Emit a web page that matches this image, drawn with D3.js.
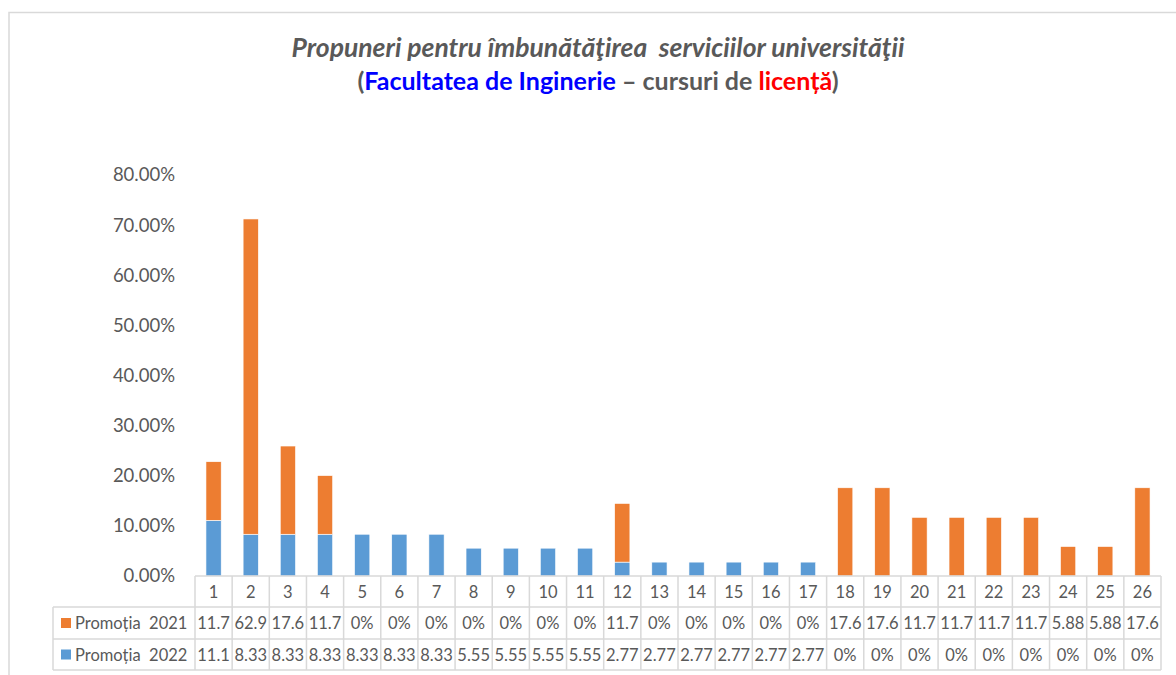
<!DOCTYPE html>
<html>
<head>
<meta charset="utf-8">
<script src="https://cdn.jsdelivr.net/npm/d3@7"></script>
<style>
  body { margin: 0; background: #fff; }
  svg { display: block; font-family: Lato, "Noto Sans", sans-serif; }
</style>
</head>
<body>
<svg width="1176" height="675"></svg>
<script>
// chart data, percent values as shown in the data table
var categories = d3.range(1, 27).map(String);
var promotia2021 = [11.7, 62.9, 17.6, 11.7, 0, 0, 0, 0, 0, 0, 0, 11.7, 0, 0, 0, 0, 0, 17.6, 17.6, 11.7, 11.7, 11.7, 11.7, 5.88, 5.88, 17.6];
var promotia2022 = [11.1, 8.33, 8.33, 8.33, 8.33, 8.33, 8.33, 5.55, 5.55, 5.55, 5.55, 2.77, 2.77, 2.77, 2.77, 2.77, 2.77, 0, 0, 0, 0, 0, 0, 0, 0, 0];
var yTicks = [0, 10, 20, 30, 40, 50, 60, 70, 80];

var series = [
  {name: "Promoția 2021", values: promotia2021, color: "#ED7D31"},
  {name: "Promoția 2022", values: promotia2022, color: "#5B9BD5"}
];

var svg = d3.select("svg");
var textColor = "#595959";
var lineColor = "#d9d9d9";

// outer chart border (runs off the right and bottom edges)
svg.append("path")
  .attr("d", "M9,676 V12.5 H1180")
  .attr("fill", "none")
  .attr("stroke", lineColor)
  .attr("stroke-width", 1.5);

// title
svg.append("text")
  .attr("x", 598)
  .attr("y", 57)
  .attr("text-anchor", "middle")
  .attr("font-size", 26.5)
  .attr("font-weight", "bold")
  .attr("font-style", "italic")
  .attr("fill", textColor)
  .style("white-space", "pre")
  .text("Propuneri pentru îmbunătăţirea  serviciilor universităţii");

var sub = svg.append("text")
  .attr("x", 598)
  .attr("y", 90)
  .attr("text-anchor", "middle")
  .attr("font-size", 25)
  .attr("font-weight", "bold")
  .attr("fill", textColor);
sub.append("tspan").text("(");
sub.append("tspan").attr("fill", "#0000FF").text("Facultatea de Inginerie");
sub.append("tspan").text(" – cursuri de ");
sub.append("tspan").attr("fill", "#FF0000").text("licență");
sub.append("tspan").text(")");

// scales
var x = d3.scaleBand()
  .domain(categories)
  .range([195, 1161])
  .paddingInner(0)
  .paddingOuter(0);

var y = d3.scaleLinear()
  .domain([0, 80])
  .range([576, 175]);

var yAxis = d3.axisLeft(y)
  .tickValues(yTicks)
  .tickSize(0)
  .tickPadding(0)
  .tickFormat(function(d) { return d.toFixed(2) + "%"; });

var gy = svg.append("g")
  .attr("transform", "translate(175,0)")
  .call(yAxis);
gy.select(".domain").remove();
gy.selectAll("text")
  .attr("font-size", 18.5)
  .attr("fill", textColor)
  .attr("font-family", "Lato, 'Noto Sans', sans-serif");

// stacked bars, 2022 on the bottom
var rows = categories.map(function(c, i) {
  return {cat: c, p2022: promotia2022[i], p2021: promotia2021[i]};
});
var stack = d3.stack().keys(["p2022", "p2021"]);
var stacked = stack(rows);
var colors = {p2022: "#5B9BD5", p2021: "#ED7D31"};
var barW = x.bandwidth() * 0.41;

svg.selectAll(".layer")
  .data(stacked)
  .enter()
  .append("g")
  .attr("class", "layer")
  .attr("fill", function(d) { return colors[d.key]; })
  .selectAll("rect")
  .data(function(d) { return d; })
  .enter()
  .filter(function(d) { return d[1] - d[0] > 0; })
  .append("rect")
  .attr("x", function(d) { return x(d.data.cat) + (x.bandwidth() - barW) / 2; })
  .attr("y", function(d) { return y(d[1]); })
  .attr("width", barW)
  .attr("height", function(d) { return y(d[0]) - y(d[1]); })
  .attr("stroke", "#fff")
  .attr("stroke-width", 0.6);

// data table under the axis
var rowTop = [576, 607, 639];
var rowBottom = 670;
var legendLeft = 53;
var table = svg.append("g").attr("stroke", lineColor).attr("stroke-width", 1.5).attr("fill", "none");

// horizontal lines
table.append("line").attr("x1", 195).attr("x2", 1161).attr("y1", rowTop[0]).attr("y2", rowTop[0]);
[rowTop[1], rowTop[2], rowBottom].forEach(function(yy) {
  table.append("line").attr("x1", legendLeft).attr("x2", 1161).attr("y1", yy).attr("y2", yy);
});
// vertical lines
table.append("line").attr("x1", legendLeft).attr("x2", legendLeft).attr("y1", rowTop[1]).attr("y2", rowBottom);
categories.concat(["end"]).forEach(function(c) {
  var xx = c === "end" ? 1161 : x(c);
  table.append("line").attr("x1", xx).attr("x2", xx).attr("y1", rowTop[0]).attr("y2", rowBottom);
});

// category labels
svg.selectAll(".cat")
  .data(categories)
  .enter()
  .append("text")
  .attr("class", "cat")
  .attr("x", function(d) { return x(d) + x.bandwidth() / 2; })
  .attr("y", (rowTop[0] + rowTop[1]) / 2 + 6)
  .attr("text-anchor", "middle")
  .attr("font-size", 16.5)
  .attr("fill", textColor)
  .text(function(d) { return d; });

var fmt = function(v) { return v === 0 ? "0%" : String(v); };

series.forEach(function(s, si) {
  var top = rowTop[si + 1];
  var bottom = si === 0 ? rowTop[2] : rowBottom;
  var mid = (top + bottom) / 2;

  svg.append("rect")
    .attr("x", 61)
    .attr("y", mid - 5)
    .attr("width", 10)
    .attr("height", 10)
    .attr("fill", s.color);

  svg.append("text")
    .attr("x", 75)
    .attr("y", mid + 6)
    .attr("font-size", 16.5)
    .attr("fill", textColor)
    .style("white-space", "pre")
    .text(s.name.replace(" ", "  "));

  svg.selectAll(".val" + si)
    .data(s.values)
    .enter()
    .append("text")
    .attr("x", function(d, i) { return x(categories[i]) + x.bandwidth() / 2; })
    .attr("y", mid + 6)
    .attr("text-anchor", "middle")
    .attr("font-size", 16.5)
    .attr("fill", textColor)
    .text(fmt);
});
</script>
</body>
</html>
